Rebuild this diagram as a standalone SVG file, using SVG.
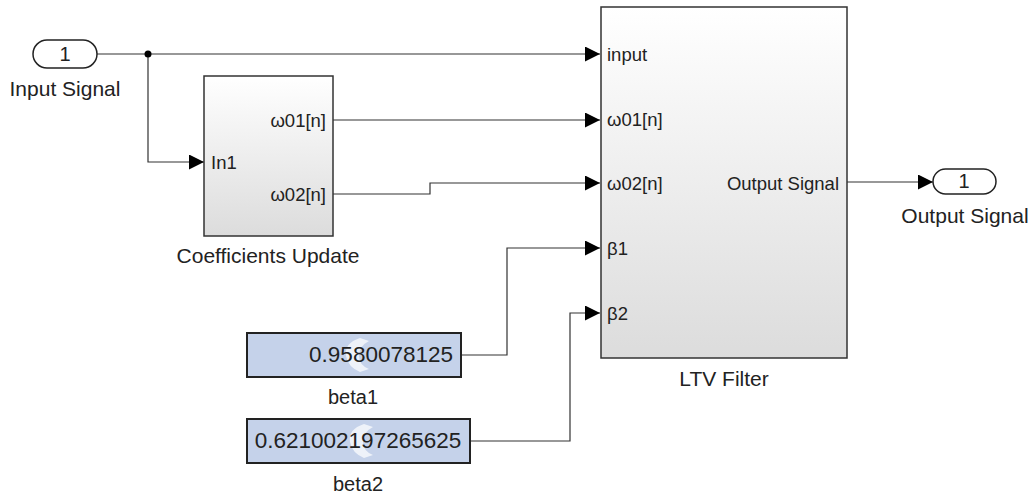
<svg xmlns="http://www.w3.org/2000/svg" width="1032" height="495" viewBox="0 0 1032 495">
<defs>
<linearGradient id="g" x1="0" y1="0" x2="0" y2="1"><stop offset="0" stop-color="#ffffff"/><stop offset="1" stop-color="#dcdcdc"/></linearGradient>
<marker id="a" viewBox="0 0 10 10" refX="10" refY="5" markerWidth="15" markerHeight="15" markerUnits="userSpaceOnUse" orient="auto"><path d="M0,0 L10,5 L0,10 z" fill="#000"/></marker>
<path id="wm" d="M0,0 q-16,5 -14,18 q2,11 14,16 l9,-3 q-10,-4 -10,-13 q0,-10 10,-15 z" fill="#eef2f9"/>
<style>
text{font-family:"Liberation Sans",Arial,sans-serif;fill:#222}
.p{font-size:18.5px}
.l{font-size:21px}
.v{font-size:22.5px}
.b{font-size:20px}
.blk{fill:url(#g);stroke:#333;stroke-width:1.5}
.c{fill:#c5d2ea;stroke:#222;stroke-width:2}
.w{fill:none;stroke:#333;stroke-width:1.2}
</style>
</defs>
<rect width="1032" height="495" fill="#fff"/>
<g id="connectors">
<path class="w" d="M97,54 H600" marker-end="url(#a)"/>
<path class="w" d="M148,54 V162 H204" marker-end="url(#a)"/>
<circle cx="148" cy="54" r="3.5" fill="#000"/>
<path class="w" d="M333,120 H600" marker-end="url(#a)"/>
<path class="w" d="M333,194 H430 V183 H600" marker-end="url(#a)"/>
<path class="w" d="M461,355 H507 V248 H600" marker-end="url(#a)"/>
<path class="w" d="M470,441 H570 V313 H600" marker-end="url(#a)"/>
<path class="w" d="M847,182 H933" marker-end="url(#a)"/>
</g>
<g id="input-signal">
<rect x="33" y="40" width="64" height="28" rx="14" fill="#fff" stroke="#222" stroke-width="1.5"/>
<text x="65" y="61" class="b" text-anchor="middle">1</text>
<text x="65" y="96" class="l" text-anchor="middle">Input Signal</text>
</g>
<g id="coefficients-update">
<rect x="204" y="76" width="129" height="160" class="blk"/>
<text x="211" y="169" class="p">In1</text>
<text x="326" y="127" class="p" text-anchor="end">ω01[n]</text>
<text x="326" y="201" class="p" text-anchor="end">ω02[n]</text>
<text x="268" y="263" class="l" text-anchor="middle">Coefficients Update</text>
</g>
<g id="ltv-filter">
<rect x="601" y="7" width="246" height="351" class="blk"/>
<text x="607" y="61" class="p">input</text>
<text x="607" y="126" class="p">ω01[n]</text>
<text x="607" y="190" class="p">ω02[n]</text>
<text x="607" y="255" class="p">β1</text>
<text x="607" y="320" class="p">β2</text>
<text x="839" y="190" class="p" text-anchor="end">Output Signal</text>
<text x="724" y="386" class="l" text-anchor="middle">LTV Filter</text>
</g>
<g id="beta1">
<rect x="247" y="333" width="214" height="44" class="c"/>
<use href="#wm" x="360" y="338"/>
<text x="453" y="362" class="v" text-anchor="end">0.9580078125</text>
<text x="353" y="404" class="b" text-anchor="middle">beta1</text>
</g>
<g id="beta2">
<rect x="247" y="419" width="223" height="44" class="c"/>
<use href="#wm" x="364" y="424"/>
<text x="358" y="448" class="v" text-anchor="middle">0.621002197265625</text>
<text x="358" y="491" class="b" text-anchor="middle">beta2</text>
</g>
<g id="output-signal">
<rect x="933" y="169" width="63" height="25" rx="12.5" fill="#fff" stroke="#222" stroke-width="1.5"/>
<text x="964" y="188" class="b" text-anchor="middle">1</text>
<text x="965" y="223" class="l" text-anchor="middle">Output Signal</text>
</g>
</svg>
